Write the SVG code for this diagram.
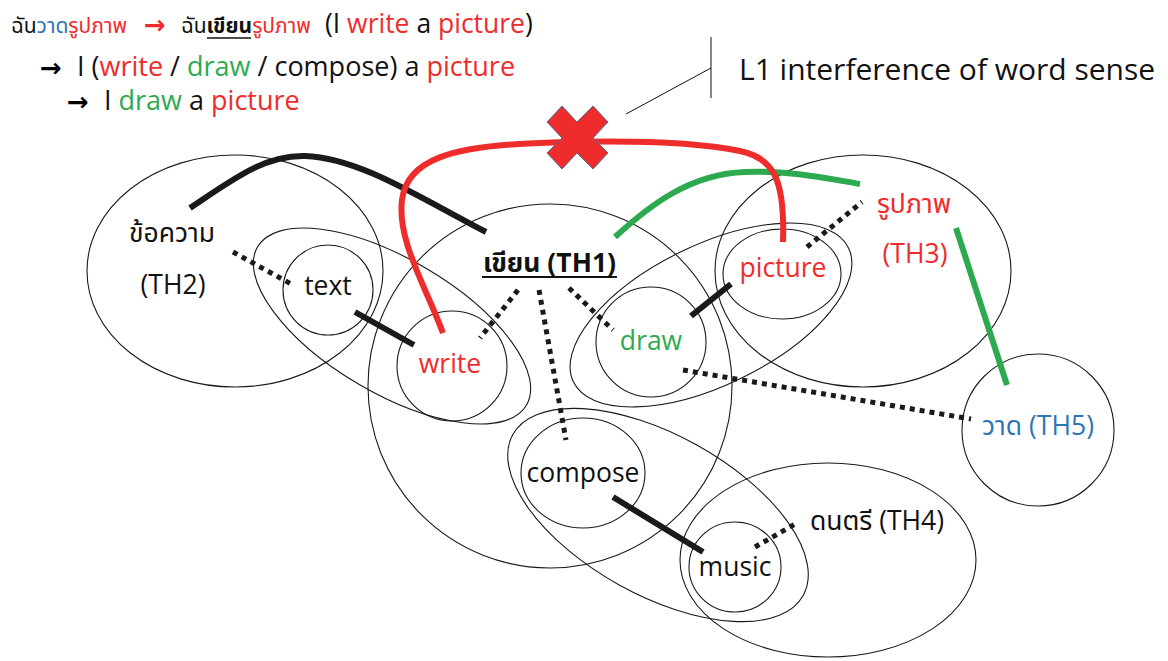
<svg xmlns="http://www.w3.org/2000/svg" width="1168" height="661" viewBox="0 0 1168 661">
  <style>
    .ring { fill: none; stroke: #1a1a1a; stroke-width: 1.1; }
    .lbl { font-family: "Open Sans", "Noto Sans Thai", "Noto Sans", sans-serif; font-size: 26.5px; fill: #111; }
    .hd { font-family: "Open Sans", "Noto Sans Thai", "Noto Sans", sans-serif; fill: #111; }
    .arr { font-family: "DejaVu Sans", sans-serif; font-weight: bold; }
    .red { fill: #ee2c2c; }
    .green { fill: #2daa4f; }
    .blue { fill: #2e75b6; }
    .solid { fill: none; stroke: #1a1a1a; stroke-width: 6; }
    .dots { fill: none; stroke: #1a1a1a; stroke-width: 5; stroke-dasharray: 5 5; }
  </style>

  <!-- example sentences -->
  <g id="header">
    <text class="hd" x="11" y="33" font-size="21">ฉัน<tspan class="blue">วาด</tspan><tspan class="red">รูปภาพ</tspan></text>
    <text class="arr red" x="144" y="34" font-size="26">→</text>
    <text class="hd" x="181" y="33" font-size="21">ฉัน<tspan font-weight="bold">เขียน</tspan><tspan class="red">รูปภาพ</tspan></text>
    <line x1="207" y1="38" x2="251" y2="38" stroke="#111" stroke-width="1.5"/>
    <text class="hd" x="325" y="33" font-size="26.5">(I <tspan class="red">write</tspan> a <tspan class="red">picture</tspan>)</text>
    <text class="arr" x="40" y="77" font-size="26">→</text>
    <text class="hd" x="77" y="76" font-size="27">I (<tspan class="red">write</tspan> / <tspan class="green">draw</tspan> / compose) a <tspan class="red">picture</tspan></text>
    <text class="arr" x="67" y="111" font-size="26">→</text>
    <text class="hd" x="104" y="110" font-size="27">I <tspan class="green">draw</tspan> a <tspan class="red">picture</tspan></text>
  </g>

  <!-- callout -->
  <g id="callout">
    <line x1="711" y1="37" x2="711" y2="98" stroke="#111" stroke-width="1"/>
    <line x1="626" y1="114" x2="711" y2="68" stroke="#111" stroke-width="1"/>
    <text class="hd" x="739" y="80" font-size="30">L1 interference of word sense</text>
  </g>

  <!-- word-sense regions -->
  <g id="th2">
    <ellipse class="ring" cx="235" cy="271" rx="148" ry="116"/>
    <text class="lbl" x="172" y="242" text-anchor="middle">ข้อความ</text>
    <text class="lbl" x="173" y="294" text-anchor="middle">(TH2)</text>
  </g>
  <g id="th1">
    <circle class="ring" cx="550" cy="386" r="182"/>
    <text class="lbl" x="549.5" y="272" text-anchor="middle" font-weight="bold">เขียน (TH1)</text>
    <line x1="482" y1="277" x2="617" y2="277" stroke="#111" stroke-width="2"/>
  </g>
  <g id="th3">
    <ellipse class="ring" cx="863" cy="271" rx="148" ry="116"/>
    <text class="lbl red" x="914" y="213" text-anchor="middle">รูปภาพ</text>
    <text class="lbl red" x="915" y="263" text-anchor="middle">(TH3)</text>
  </g>
  <g id="th4">
    <ellipse class="ring" cx="828" cy="560" rx="148" ry="97"/>
    <text class="lbl" x="877" y="530" text-anchor="middle">ดนตรี (TH4)</text>
  </g>
  <g id="th5">
    <circle class="ring" cx="1038" cy="430" r="76"/>
    <text class="lbl blue" x="1038" y="435" text-anchor="middle">วาด (TH5)</text>
  </g>

  <!-- English pairings -->
  <g id="text-write">
    <ellipse class="ring" cx="392" cy="326" rx="156" ry="67" transform="rotate(30.5 392 326)"/>
  </g>
  <g id="draw-picture">
    <ellipse class="ring" cx="711" cy="315" rx="153" ry="70" transform="rotate(-26 711 315)"/>
  </g>
  <g id="compose-music">
    <ellipse class="ring" cx="658" cy="515" rx="166" ry="80" transform="rotate(29 658 515)"/>
  </g>

  <g id="text">
    <circle class="ring" cx="328" cy="290" r="45"/>
    <text class="lbl" x="328" y="295" text-anchor="middle">text</text>
  </g>
  <g id="write">
    <circle class="ring" cx="452" cy="366" r="55"/>
    <text class="lbl red" x="450" y="373" text-anchor="middle">write</text>
  </g>
  <g id="draw">
    <circle class="ring" cx="651" cy="342" r="55"/>
    <text class="lbl green" x="651" y="350" text-anchor="middle">draw</text>
  </g>
  <g id="picture">
    <ellipse class="ring" cx="782" cy="274" rx="59" ry="45"/>
    <text class="lbl red" x="783" y="277" text-anchor="middle">picture</text>
  </g>
  <g id="compose">
    <ellipse class="ring" cx="583" cy="473" rx="62" ry="55"/>
    <text class="lbl" x="583" y="482" text-anchor="middle">compose</text>
  </g>
  <g id="music">
    <ellipse class="ring" cx="735" cy="567" rx="46" ry="45"/>
    <text class="lbl" x="735" y="576" text-anchor="middle">music</text>
  </g>

  <!-- links -->
  <g id="connectors">
    <path class="solid" d="M190,208 C235,178 265,155 305,156 C360,158 420,198 486,232"/>
    <line class="solid" x1="355" y1="312" x2="414" y2="345"/>
    <line class="solid" x1="691" y1="316" x2="731" y2="284"/>
    <line class="solid" x1="613" y1="497" x2="703" y2="552"/>

    <line class="dots" x1="233" y1="252" x2="293" y2="285"/>
    <line class="dots" x1="518" y1="290" x2="480" y2="338"/>
    <line class="dots" x1="539" y1="290" x2="566" y2="440"/>
    <line class="dots" x1="569" y1="288" x2="613" y2="330"/>
    <line class="dots" x1="807" y1="247" x2="862" y2="202"/>
    <line class="dots" x1="683" y1="370" x2="971" y2="419"/>
    <line class="dots" x1="755" y1="547" x2="797" y2="523"/>

    <path d="M615,237 C650,205 690,174 745,172 C790,170 830,179 860,184" fill="none" stroke="#2daa4f" stroke-width="6"/>
    <line x1="956" y1="228" x2="1007" y2="385" stroke="#2daa4f" stroke-width="6"/>
    <path d="M443,333 C425,285 397,240 402,200 C407,160 450,146 540,143 C620,140 695,142 740,151 C775,158 785,182 783,242" fill="none" stroke="#ee2c2c" stroke-width="6"/>
  </g>

  <!-- rejected mapping mark -->
  <polygon id="cross" points="562,106 577,122 593,106 608,122 593,138 608,153 593,169 577,153 562,169 547,153 562,138 547,122" fill="#ee2c2c" stroke="#4f6e9f" stroke-width="1"/>
</svg>
